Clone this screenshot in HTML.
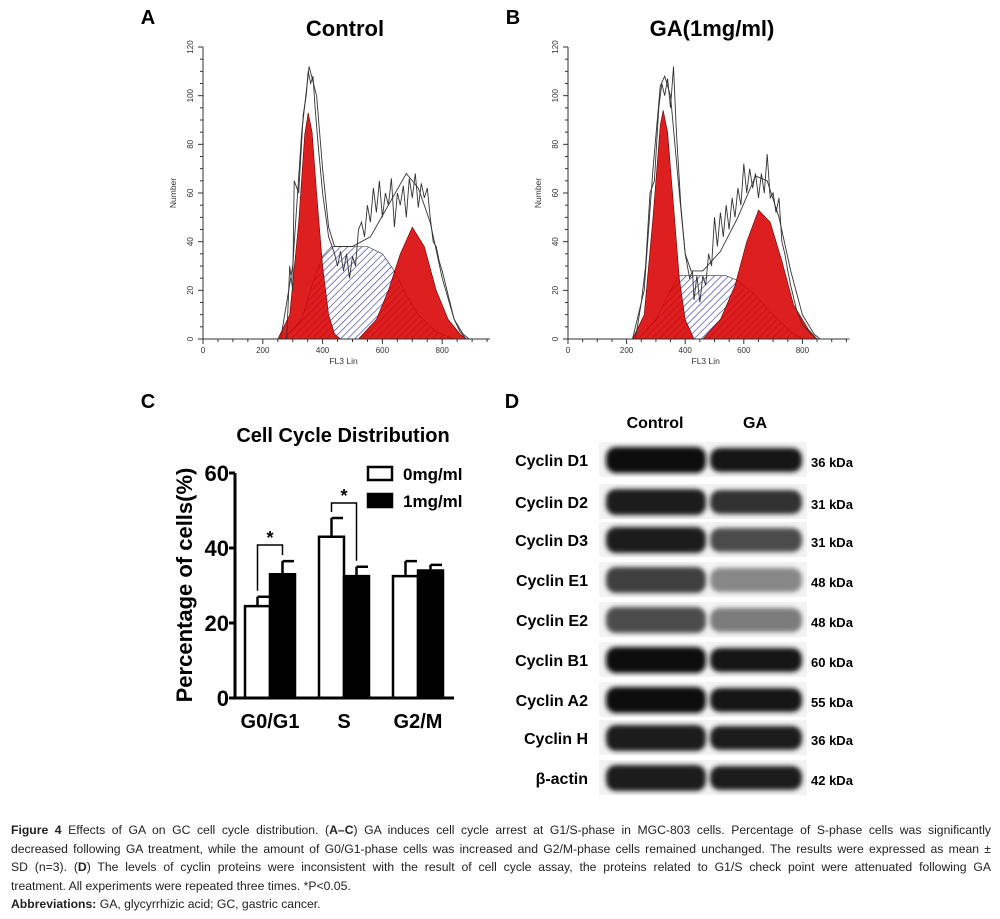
<!DOCTYPE html>
<html><head><meta charset="utf-8">
<style>
html,body{margin:0;padding:0;background:#fff;}
body{width:1000px;height:919px;position:relative;overflow:hidden;font-family:"Liberation Sans",sans-serif;}
svg{position:absolute;left:0;top:0;}
.cap{position:absolute;left:11px;width:980px;font-family:"Liberation Sans",sans-serif;font-size:12.2px;line-height:18.6px;color:#222;}
.cap div{text-align:justify;text-align-last:justify;white-space:nowrap;}
.cap div.last{text-align-last:left;}
</style></head>
<body>
<svg width="1000" height="820" viewBox="0 0 1000 820" id="fig">
<defs>
<pattern id="hatch" patternUnits="userSpaceOnUse" width="5" height="5" patternTransform="rotate(45)">
<rect width="5" height="5" fill="#fff"/><line x1="0" y1="0" x2="0" y2="5" stroke="#3a3aa8" stroke-width="1.3"/>
</pattern>
<filter id="blur" x="-20%" y="-50%" width="140%" height="200%"><feGaussianBlur stdDeviation="2.5"/></filter>
</defs>
<g id="panelA"></g>
<g id="panelB"></g>
<g id="panelC"></g>
<g id="panelD"></g>
</svg>
<div class="cap" style="top:821px">
<div><b>Figure 4</b> Effects of GA on GC cell cycle distribution. (<b>A–C</b>) GA induces cell cycle arrest at G1/S-phase in MGC-803 cells. Percentage of S-phase cells was significantly</div>
<div>decreased following GA treatment, while the amount of G0/G1-phase cells was increased and G2/M-phase cells remained unchanged. The results were expressed as mean ±</div>
<div>SD (n=3). (<b>D</b>) The levels of cyclin proteins were inconsistent with the result of cell cycle assay, the proteins related to G1/S check point were attenuated following GA</div>
<div class="last">treatment. All experiments were repeated three times. *P&lt;0.05.</div>
<div class="last"><b>Abbreviations:</b> GA, glycyrrhizic acid; GC, gastric cancer.</div>
</div>
<script>
// ---- Panel A/B histogram data (channel, count) ----
const histXTicks=[0,200,400,600,800];
const histYTicks=[0,20,40,60,80,100,120];
const aG1=[[250,0],[290,10],[320,48],[340,84],[352,93],[365,85],[380,60],[400,30],[420,10],[440,2],[460,0]];
const aS=[[270,0],[330,8],[370,24],[400,34],[430,38],[550,38],[600,35],[640,28],[680,18],[720,10],[780,3],[840,0]];
const aG2=[[520,0],[580,8],[620,20],[660,35],[700,46],[740,38],[780,20],[820,8],[860,2],[880,0]];
const aFit=[[260,0],[300,30],[330,85],[355,112],[380,100],[400,70],[420,46],[440,38],[500,38],[560,42],[620,55],[680,68],[720,62],[760,48],[800,25],[840,8],[870,2],[890,0]];
const aRaw=[[280,0],[290,30],[300,20],[305,65],[320,60],[335,92],[345,100],[352,110],[360,105],[368,108],[375,95],[385,80],[400,60],[420,42],[440,35],[450,30],[460,36],[470,28],[480,35],[490,25],[500,34],[510,30],[520,45],[530,48],[540,42],[550,55],[560,48],[570,62],[580,52],[590,65],[600,50],[610,60],[620,55],[630,66],[640,46],[650,60],[660,55],[670,63],[680,50],[690,66],[700,58],[710,68],[720,54],[730,64],[740,58],[750,62],[760,50],[770,40],[780,38],[790,32],[800,28],[820,18],[840,8],[860,3],[880,0]];
const bG1=[[220,0],[260,10],[290,50],[315,88],[325,94],[340,85],[360,55],[380,25],[400,8],[430,0]];
const bS=[[240,0],[300,8],[350,20],[380,26],[540,26],[580,24],[640,18],[700,10],[760,3],[800,0]];
const bG2=[[460,0],[520,8],[570,22],[610,40],[650,53],[690,48],[730,32],[770,14],[820,4],[850,0]];
const bFit=[[220,0],[260,20],[290,70],[315,104],[330,108],[350,100],[380,60],[400,35],[420,28],[460,28],[520,36],[580,50],[640,67],[680,65],[720,50],[760,28],[800,10],[840,2],[860,0]];
const bRaw=[[230,0],[250,15],[265,30],[280,60],[295,65],[310,95],[320,105],[330,100],[340,107],[350,95],[360,112],[370,85],[385,55],[400,35],[415,25],[425,28],[430,16],[440,26],[450,15],[460,26],[470,22],[480,35],[490,30],[500,50],[510,38],[520,52],[530,42],[540,55],[550,45],[560,58],[570,50],[580,62],[590,55],[600,72],[610,60],[620,70],[630,62],[640,68],[650,58],[660,68],[670,60],[680,76],[690,58],[700,60],[710,52],[720,58],[730,40],[740,35],[750,28],[760,22],[780,12],[800,6],[830,2],[850,0]];

// ---- Panel C bar chart data ----
const barCats=["G0/G1","S","G2/M"];
const barCtrl=[24.5,43,32.5];
const barCtrlErr=[2.5,5,4];
const barGA=[33,32.5,34];
const barGAErr=[3.5,2.5,1.5];
const barYTicks=[0,20,40,60];

// ---- Panel D blot data ----
const blotNames=["Cyclin D1","Cyclin D2","Cyclin D3","Cyclin E1","Cyclin E2","Cyclin B1","Cyclin A2","Cyclin H","β-actin"];
const blotKDa=["36 kDa","31 kDa","31 kDa","48 kDa","48 kDa","60 kDa","55 kDa","36 kDa","42 kDa"];
const blotCtrl=[1.0,0.95,0.95,0.8,0.75,1.0,1.0,0.95,0.95];
const blotGA=[0.97,0.85,0.75,0.5,0.55,0.97,0.97,0.95,0.95];

const NS="http://www.w3.org/2000/svg";
function mk(tag,attrs,parent,text){const e=document.createElementNS(NS,tag);for(const k in attrs)e.setAttribute(k,attrs[k]);if(text!==undefined)e.textContent=text;parent.appendChild(e);return e;}
const root=document.getElementById('fig');

[["A",148,24],["B",513,24],["C",148,408],["D",512,408]].forEach(l=>{const t=mk('text',{x:l[1],y:l[2],'font-size':20,'font-weight':'bold','text-anchor':'middle'},root,l[0]);

});

function hist(g,x0,scale,title,titleX,G1,S,G2,fit,raw){
  const y0=339,ys=292/120;
  const X=v=>x0+v*scale, Y=v=>y0-v*ys;
  const path=a=>a.map((p,i)=>(i?'L':'M')+X(p[0]).toFixed(1)+','+Y(p[1]).toFixed(1)).join(' ');
  const t=mk('text',{x:titleX,y:36,'font-size':22,'font-weight':'bold','text-anchor':'middle'},g,title);
  
  
  const s=mk('path',{d:path(S)+'Z',fill:'url(#hatch)',stroke:'#333','stroke-width':0.6},g);
  
  
  [G1,G2].forEach((a,i)=>{const p=mk('path',{d:path(a)+'Z',fill:'#d80000','fill-opacity':0.88,stroke:'#600','stroke-width':0.6},g);
    
    });
  const r=mk('path',{d:path(raw),fill:'none',stroke:'#333','stroke-width':0.9},g);
  
  
  const f=mk('path',{d:path(fit),fill:'none',stroke:'#333','stroke-width':0.9},g);
  
  
  const xEnd=X(960);
  mk('line',{x1:x0,y1:y0,x2:xEnd,y2:y0,stroke:'#333','stroke-width':1},g);
  mk('line',{x1:x0,y1:y0,x2:x0,y2:Y(120),stroke:'#333','stroke-width':1},g);
  for(let v=0;v<=950;v+=50){mk('line',{x1:X(v),y1:y0,x2:X(v),y2:y0+(v%200?3:5),stroke:'#333'},g);}
  for(let v=0;v<=120;v+=5){mk('line',{x1:x0,y1:Y(v),x2:x0-(v%20?3:5),y2:Y(v),stroke:'#333'},g);}
  histXTicks.forEach(v=>{const tt=mk('text',{x:X(v),y:y0+14,'font-size':8,'text-anchor':'middle',fill:'#333'},g,v);
    
    });
  histYTicks.forEach(v=>{const tt=mk('text',{x:x0-10,y:Y(v),'font-size':8,'text-anchor':'middle',fill:'#333',transform:`rotate(-90 ${x0-10} ${Y(v)})`},g,v);
    
    });
  const xl=mk('text',{x:X(470),y:y0+25,'font-size':8.5,'text-anchor':'middle',fill:'#333'},g,'FL3 Lin');
  
  
  const yl=mk('text',{x:x0-27,y:193,'font-size':8.5,'text-anchor':'middle',fill:'#333',transform:`rotate(-90 ${x0-27} 193)`},g,'Number');
  
  
}
hist(document.getElementById('panelA'),203,0.299,'Control',345,aG1,aS,aG2,aFit,aRaw);
hist(document.getElementById('panelB'),568,0.293,'GA(1mg/ml)',712,bG1,bS,bG2,bFit,bRaw);

(function(){
  const g=document.getElementById('panelC');
  const x0=235,y0=698,ys=225/60;
  const Y=v=>y0-v*ys;
  const groupX=[245,319,393],bw=25;
  const tt=mk('text',{x:343,y:442,'font-size':20,'font-weight':'bold','text-anchor':'middle'},g,'Cell Cycle Distribution');
  
  
  barCats.forEach((c,i)=>{
    const xw=groupX[i],xb=xw+bw;
    [[xw,barCtrl[i],barCtrlErr[i],'#fff','ctrl'],[xb,barGA[i],barGAErr[i],'#000','ga']].forEach(b=>{
      mk('line',{x1:b[0]+bw/2,y1:Y(b[1]),x2:b[0]+bw/2,y2:Y(b[1]+b[2]),stroke:'#000','stroke-width':2.5},g);
      mk('line',{x1:b[0]+bw/2,y1:Y(b[1]+b[2]),x2:b[0]+bw-1,y2:Y(b[1]+b[2]),stroke:'#000','stroke-width':2.5},g);
      const r=mk('rect',{x:b[0],y:Y(b[1]),width:bw,height:b[1]*ys,fill:b[3],stroke:'#000','stroke-width':2.5},g);
      
      
    });
    const l=mk('text',{x:xw+bw,y:728,'font-size':20,'font-weight':'bold','text-anchor':'middle'},g,c);
    
    
  });
  [[0,545],[1,503]].forEach(s=>{const i=s[0],xw=groupX[i]+bw/2,xb=groupX[i]+bw*1.5,yt=s[1];
    mk('path',{d:`M${xw},${Y(barCtrl[i]+barCtrlErr[i])-6} V${yt} H${xb} V${Y(barGA[i]+barGAErr[i])-6}`,fill:'none',stroke:'#000','stroke-width':1.5},g);
    const st=mk('text',{x:(xw+xb)/2,y:yt-1,'font-size':18,'font-weight':'bold','text-anchor':'middle'},g,'*');
    
    });
  mk('line',{x1:x0,y1:y0,x2:454,y2:y0,stroke:'#000','stroke-width':3},g);
  mk('line',{x1:x0,y1:y0+1.5,x2:x0,y2:Y(60),stroke:'#000','stroke-width':3},g);
  barYTicks.forEach(v=>{mk('line',{x1:x0,y1:Y(v),x2:x0-6,y2:Y(v),stroke:'#000','stroke-width':3},g);
    const t=mk('text',{x:x0-6,y:Y(v)+8,'font-size':22,'font-weight':'bold','text-anchor':'end'},g,v);
    
    });
  const yl=mk('text',{x:192,y:585,'font-size':22,'font-weight':'bold','text-anchor':'middle',transform:'rotate(-90 192 585)'},g,'Percentage of cells(%)');
  
  
  [['#fff','0mg/ml',467],['#000','1mg/ml',494]].forEach((e,i)=>{
    mk('rect',{x:368,y:e[2],width:24,height:13,fill:e[0],stroke:'#000','stroke-width':2.5},g);
    const t=mk('text',{x:403,y:e[2]+13,'font-size':17,'font-weight':'bold'},g,e[1]);
    
    });
})();

(function(){
  const g=document.getElementById('panelD');
  const rowY=[460,502,540,580,620,660,700,738,778];
  [['Control',655],['GA',755]].forEach(h=>{const t=mk('text',{x:h[1],y:428,'font-size':16,'font-weight':'bold','text-anchor':'middle'},g,h[0]);
    
    });
  blotNames.forEach((n,i)=>{
    const cy=rowY[i];
    const strip=mk('rect',{x:599,y:cy-18,width:208,height:35,fill:'#f3f3f3'},g);
    
    
    const c=Math.round(255-240*blotCtrl[i]), a=Math.round(255-240*blotGA[i]);
    const b1=mk('rect',{x:606,y:cy-13,width:100,height:26,rx:10,fill:`rgb(${c},${c},${c})`,filter:'url(#blur)'},g);
    
    
    const b2=mk('rect',{x:710,y:cy-12,width:92,height:24,rx:10,fill:`rgb(${a},${a},${a})`,filter:'url(#blur)'},g);
    
    
    const l=mk('text',{x:588,y:cy+6,'font-size':16,'font-weight':'bold','text-anchor':'end'},g,n);
    
    
    const k=mk('text',{x:811,y:cy+7,'font-size':13,'font-weight':'bold'},g,blotKDa[i]);
    
    
  });
})();
</script>
</body></html>
